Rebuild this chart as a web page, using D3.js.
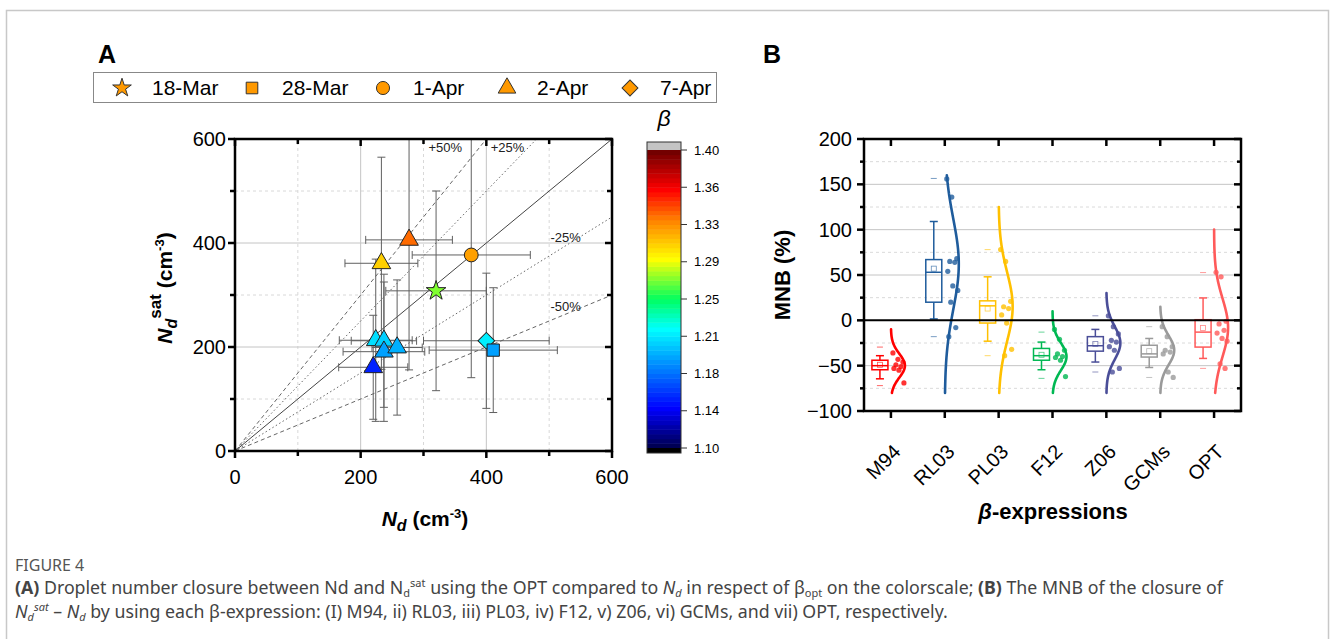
<!DOCTYPE html>
<html>
<head>
<meta charset="utf-8">
<script src="https://cdn.jsdelivr.net/npm/d3@7"></script>
<style>
  body { margin: 0; background: #fff; }
  svg { display: block; font-family: Arial, "Liberation Sans", sans-serif; }
</style>
</head>
<body>
<svg id="fig" width="1330" height="639"></svg>
<script>
// ---------- panel A data ----------
const dates = ["18-Mar", "28-Mar", "1-Apr", "2-Apr", "7-Apr"];
const ptDate = ["2-Apr", "2-Apr", "2-Apr", "2-Apr", "2-Apr", "2-Apr", "2-Apr", "7-Apr", "28-Mar", "1-Apr", "18-Mar"];
const ptNd   = [220, 224, 237, 237, 258, 233, 277, 400, 411, 376, 320];
const ptNsat = [161, 213, 212, 191, 199, 361, 406, 212, 194, 377, 308];
const ptNdErr   = [55, 58, 52, 65, 40, 58, 69, 100, 102, 94, 80];
const ptNsatErr = [100, 156, 128, 134, 130, 204, 250, 130, 120, 236, 192];
const ptBeta = [1.15, 1.21, 1.205, 1.19, 1.195, 1.305, 1.335, 1.215, 1.19, 1.32, 1.27];
const axisTicksA = [0, 200, 400, 600];
const betaTicks = [1.10, 1.14, 1.18, 1.21, 1.25, 1.29, 1.33, 1.36, 1.40];
const refLines = [
  { k: 1.5, label: "+50%" }, { k: 1.25, label: "+25%" }, { k: 1, label: "" },
  { k: 0.75, label: "-25%" }, { k: 0.5, label: "-50%" }
];

// ---------- panel B data ----------
const cats = ["M94", "RL03", "PL03", "F12", "Z06", "GCMs", "OPT"];
const m94Pts  = [-36, -43, -46, -49, -51, -53, -55, -69];
const rl03Pts = [156, 136, 68, 65, 64, 54, 38, 33, 20, -8, -18];
const pl03Pts = [78, 65, 21, 15, 13, 6, -3, -32, -39];
const f12Pts  = [-10, -21, -33, -37, -40, -41, -44, -62];
const z06Pts  = [5, -7, -15, -22, -24, -29, -33, -53, -57];
const gcmPts  = [-7, -18, -29, -33, -35, -37, -57, -63];
const optPts  = [53, 48, -1, -4, -11, -14, -20, -23, -48, -53];
const boxQ1   = [-54.5, 20, -3, -44, -34, -40.5, -29.5];
const boxMed  = [-50, 53, 16, -39, -28, -37, -13];
const boxQ3   = [-44, 67, 21.5, -31, -18, -27.5, 0.7];
const whiskLo = [-64.5, 1.5, -23, -54.5, -46, -52, -42];
const whiskHi = [-39, 109, 48, -24, -10, -20, 24.7];
const meanVal = [-49, 57, 13, -38, -26, -34, -8.5];
const extLo   = [-72, -18, -39, -64, -57, -63, -53];
const extHi   = [-29.5, 156.5, 78, -13, 5, -7, 52.7];
const curveMean = [-50, 62, 15, -40, -25, -33, -8];
const curveSd   = [13, 50, 38, 15, 18, 16, 32];
const curveLo   = [-80, -80, -80, -80, -80, -80, -80];
const curveHi   = [-10, 160, 125, 10, 30, 15, 100];
const mnbTicks = [-100, -50, 0, 50, 100, 150, 200];

const catPts = [m94Pts, rl03Pts, pl03Pts, f12Pts, z06Pts, gcmPts, optPts];
const catColor = ["#ff0000", "#1f5c9c", "#ffc000", "#00b853", "#4a4e98", "#9a9a9a", "#ff5a5a"];

const svg = d3.select("#fig");

// outer frame
svg.append("rect").attr("x", 6.5).attr("y", 10.5).attr("width", 1322).attr("height", 660)
  .attr("fill", "none").attr("stroke", "#c8c8c8").attr("stroke-width", 1.5);

// ===================== panel A =====================
const xA = d3.scaleLinear().domain([0, 600]).range([235, 612]);
const yA = d3.scaleLinear().domain([0, 600]).range([451, 139]);

const jet = d3.scaleLinear()
  .domain([1.10, 1.14, 1.18, 1.22, 1.25, 1.29, 1.33, 1.36, 1.40])
  .range(["#00004a", "#0000ff", "#0080ff", "#00ffff", "#00ff60", "#ffff00", "#ff8000", "#ff0000", "#6a0000"]);

svg.append("text").attr("x", 98).attr("y", 63).attr("font-size", 25).attr("font-weight", "bold").text("A");

// grid
const gA = svg.append("g");
[100, 300, 500].forEach(v => {
  gA.append("line").attr("x1", xA(v)).attr("x2", xA(v)).attr("y1", yA(0)).attr("y2", yA(600))
    .attr("stroke", "#d8d8d8").attr("stroke-dasharray", "3,3");
  gA.append("line").attr("y1", yA(v)).attr("y2", yA(v)).attr("x1", xA(0)).attr("x2", xA(600))
    .attr("stroke", "#d8d8d8").attr("stroke-dasharray", "3,3");
});
[200, 400].forEach(v => {
  gA.append("line").attr("x1", xA(v)).attr("x2", xA(v)).attr("y1", yA(0)).attr("y2", yA(600))
    .attr("stroke", "#c4c4c4");
  gA.append("line").attr("y1", yA(v)).attr("y2", yA(v)).attr("x1", xA(0)).attr("x2", xA(600))
    .attr("stroke", "#c4c4c4");
});

svg.append("clipPath").attr("id", "clipA").append("rect")
  .attr("x", xA(0)).attr("y", yA(600)).attr("width", xA(600) - xA(0)).attr("height", yA(0) - yA(600));

// reference lines
const refG = svg.append("g").attr("clip-path", "url(#clipA)");
refLines.forEach(r => {
  const xEnd = Math.min(600, 600 / r.k);
  refG.append("line")
    .attr("x1", xA(0)).attr("y1", yA(0)).attr("x2", xA(xEnd)).attr("y2", yA(xEnd * r.k))
    .attr("stroke", r.k === 1 ? "#444" : "#555").attr("stroke-width", r.k === 1 ? 1 : 0.9)
    .attr("stroke-dasharray", r.k === 1 ? null : (Math.abs(r.k - 1) === 0.5 ? "4,3" : "1.5,2.5"));
});
const refLab = [
  { t: "+50%", x: xA(308), y: yA(575) }, { t: "+25%", x: xA(407), y: yA(575) },
  { t: "-25%", x: xA(502), y: yA(402) }, { t: "-50%", x: xA(502), y: yA(270) }
];
refLab.forEach(l => {
  svg.append("text").attr("x", l.x).attr("y", l.y).attr("font-size", 13).attr("fill", "#222").text(l.t);
});

// error bars
const errG = svg.append("g").attr("clip-path", "url(#clipA)")
  .attr("stroke", "#606060").attr("stroke-width", 1).attr("fill", "none");
ptNd.forEach((nd, i) => {
  const cx = xA(nd), cy = yA(ptNsat[i]);
  const x0 = xA(nd - ptNdErr[i]), x1 = xA(nd + ptNdErr[i]);
  const y0 = yA(ptNsat[i] - ptNsatErr[i]), y1 = yA(ptNsat[i] + ptNsatErr[i]);
  errG.append("line").attr("x1", x0).attr("x2", x1).attr("y1", cy).attr("y2", cy);
  errG.append("line").attr("x1", x0).attr("x2", x0).attr("y1", cy - 4).attr("y2", cy + 4);
  errG.append("line").attr("x1", x1).attr("x2", x1).attr("y1", cy - 4).attr("y2", cy + 4);
  errG.append("line").attr("x1", cx).attr("x2", cx).attr("y1", y0).attr("y2", y1);
  errG.append("line").attr("x1", cx - 4).attr("x2", cx + 4).attr("y1", y0).attr("y2", y0);
  errG.append("line").attr("x1", cx - 4).attr("x2", cx + 4).attr("y1", y1).attr("y2", y1);
});

const symFor = {
  "18-Mar": { t: d3.symbolStar, s: 120, r: 0 },
  "28-Mar": { t: d3.symbolSquare, s: 150, r: 0 },
  "1-Apr": { t: d3.symbolCircle, s: 150, r: 0 },
  "2-Apr": { t: d3.symbolTriangle, s: 150, r: 0 },
  "7-Apr": { t: d3.symbolSquare, s: 140, r: 45 }
};
const markG = svg.append("g");
ptNd.forEach((nd, i) => {
  const sy = symFor[ptDate[i]];
  markG.append("path")
    .attr("d", d3.symbol().type(sy.t).size(sy.s)())
    .attr("transform", `translate(${xA(nd)},${yA(ptNsat[i])}) rotate(${sy.r})`)
    .attr("fill", jet(ptBeta[i])).attr("stroke", "#222").attr("stroke-width", 1);
});

// frame + ticks
const frameA = svg.append("g");
frameA.append("rect").attr("x", xA(0)).attr("y", yA(600)).attr("width", xA(600) - xA(0)).attr("height", yA(0) - yA(600))
  .attr("fill", "none").attr("stroke", "#000").attr("stroke-width", 2.5);
d3.range(0, 601, 100).forEach(v => {
  const major = v % 200 === 0;
  const L = major ? 7 : 5;
  frameA.append("line").attr("x1", xA(v)).attr("x2", xA(v)).attr("y1", yA(0)).attr("y2", yA(0) + L).attr("stroke", "#000").attr("stroke-width", 2.5);
  frameA.append("line").attr("x1", xA(v)).attr("x2", xA(v)).attr("y1", yA(600)).attr("y2", yA(600) + L).attr("stroke", "#000").attr("stroke-width", 2.5);
  frameA.append("line").attr("y1", yA(v)).attr("y2", yA(v)).attr("x1", xA(0)).attr("x2", xA(0) - L).attr("stroke", "#000").attr("stroke-width", 2.5);
  frameA.append("line").attr("y1", yA(v)).attr("y2", yA(v)).attr("x1", xA(600)).attr("x2", xA(600) - L).attr("stroke", "#000").attr("stroke-width", 2.5);
});
axisTicksA.forEach(v => {
  svg.append("text").attr("x", xA(v)).attr("y", 484).attr("text-anchor", "middle").attr("font-size", 20).text(v);
  svg.append("text").attr("x", 226).attr("y", yA(v) + 7).attr("text-anchor", "end").attr("font-size", 20).text(v);
});

// axis titles
const xt = svg.append("text").attr("x", 425).attr("y", 526).attr("text-anchor", "middle")
  .attr("font-size", 21).attr("font-weight", "bold");
xt.append("tspan").attr("font-style", "italic").text("N");
xt.append("tspan").attr("font-style", "italic").attr("font-size", 16).attr("dy", 5).text("d");
xt.append("tspan").attr("dy", -5).text(" (cm");
xt.append("tspan").attr("font-size", 13).attr("dy", -8).text("-3");
xt.append("tspan").attr("dy", 8).text(")");

const yt = svg.append("text").attr("transform", "translate(172,288) rotate(-90)").attr("text-anchor", "middle")
  .attr("font-size", 21).attr("font-weight", "bold");
yt.append("tspan").attr("font-style", "italic").text("N");
yt.append("tspan").attr("font-style", "italic").attr("font-size", 16).attr("dy", 5).text("d");
yt.append("tspan").attr("font-size", 17).attr("dy", -16).text("sat");
yt.append("tspan").attr("dy", 11).text(" (cm");
yt.append("tspan").attr("font-size", 13).attr("dy", -8).text("-3");
yt.append("tspan").attr("dy", 8).text(")");

// legend
const leg = svg.append("g");
leg.append("rect").attr("x", 93.5).attr("y", 72.5).attr("width", 623).attr("height", 30)
  .attr("fill", "#fff").attr("stroke", "#888").attr("stroke-width", 1);
const legX = [122, 252, 383, 507, 630];
dates.forEach((d, i) => {
  const sy = symFor[d];
  leg.append("path").attr("d", d3.symbol().type(sy.t).size(sy.s * 0.9)())
    .attr("transform", `translate(${legX[i]},88) rotate(${sy.r})`)
    .attr("fill", "#ff9900").attr("stroke", "#333").attr("stroke-width", 1);
  leg.append("text").attr("x", legX[i] + 30).attr("y", 95).attr("font-size", 21).text(d);
});

// colorbar
const cb = d3.scaleLinear().domain([1.10, 1.40]).range([448, 150]);
const nLev = 64;
const step = 0.30 / nLev;
d3.range(nLev).forEach(k => {
  const b0 = 1.10 + k * step, b1 = b0 + step;
  svg.append("rect").attr("x", 647).attr("y", cb(b1)).attr("width", 34).attr("height", cb(b0) - cb(b1) + 0.5)
    .attr("fill", jet(b0 + step / 2));
});
svg.append("rect").attr("x", 647).attr("y", 142).attr("width", 34).attr("height", 8).attr("fill", "#c4c4c4");
svg.append("rect").attr("x", 647).attr("y", 448).attr("width", 34).attr("height", 5).attr("fill", "#000");
svg.append("rect").attr("x", 647).attr("y", 142).attr("width", 34).attr("height", 311)
  .attr("fill", "none").attr("stroke", "#333").attr("stroke-width", 1);
betaTicks.forEach((b, i) => {
  const y = d3.scaleLinear().domain([0, betaTicks.length - 1]).range([448, 150])(i);
  svg.append("line").attr("x1", 681).attr("x2", 687).attr("y1", y).attr("y2", y).attr("stroke", "#333");
  svg.append("text").attr("x", 694).attr("y", y + 4.5).attr("font-size", 13).text(b.toFixed(2));
});
svg.append("text").attr("x", 664).attr("y", 126).attr("text-anchor", "middle").attr("font-size", 23)
  .attr("font-style", "italic").text("β");

// ===================== panel B =====================
const xB = d3.scalePoint().domain(cats).range([864, 1241]).padding(0.5);
const yB = d3.scaleLinear().domain([-100, 200]).range([411, 139]);

svg.append("text").attr("x", 763).attr("y", 63).attr("font-size", 25).attr("font-weight", "bold").text("B");

const gB = svg.append("g");
d3.range(-75, 200, 25).forEach(v => {
  if (v === 0) return;
  const major = v % 50 === 0;
  gB.append("line").attr("x1", 864).attr("x2", 1241).attr("y1", yB(v)).attr("y2", yB(v))
    .attr("stroke", major ? "#c4c4c4" : "#dadada").attr("stroke-dasharray", major ? null : "3,3");
});

cats.forEach((c, i) => {
  const col = catColor[i];
  const xc = xB(c), bx = xc - 11, bw = 16;
  const g = gB.append("g").attr("stroke", col).attr("fill", "none");
  // whiskers
  g.append("line").attr("x1", bx).attr("x2", bx).attr("y1", yB(whiskHi[i])).attr("y2", yB(boxQ3[i])).attr("stroke-width", 1.5);
  g.append("line").attr("x1", bx).attr("x2", bx).attr("y1", yB(boxQ1[i])).attr("y2", yB(whiskLo[i])).attr("stroke-width", 1.5);
  [whiskHi[i], whiskLo[i]].forEach(v =>
    g.append("line").attr("x1", bx - 4).attr("x2", bx + 4).attr("y1", yB(v)).attr("y2", yB(v)).attr("stroke-width", 1.5));
  g.append("rect").attr("x", bx - bw / 2).attr("y", yB(boxQ3[i])).attr("width", bw).attr("height", yB(boxQ1[i]) - yB(boxQ3[i]))
    .attr("stroke-width", 1.5);
  g.append("line").attr("x1", bx - bw / 2).attr("x2", bx + bw / 2).attr("y1", yB(boxMed[i])).attr("y2", yB(boxMed[i])).attr("stroke-width", 1.5);
  g.append("rect").attr("x", bx - 2.5).attr("y", yB(meanVal[i]) - 2.5).attr("width", 5).attr("height", 5)
    .attr("stroke-width", 0.8).attr("opacity", 0.7);
  [extHi[i], extLo[i]].forEach(v =>
    g.append("line").attr("x1", bx - 3).attr("x2", bx + 3).attr("y1", yB(v)).attr("y2", yB(v)).attr("stroke-width", 1).attr("opacity", 0.6));

  // distribution curve
  const peak = 14;
  const ys = d3.range(curveLo[i], curveHi[i] + 0.1, 1);
  const line = d3.line().x(v => xc + peak * Math.exp(-0.5 * ((v - curveMean[i]) / curveSd[i]) ** 2)).y(v => yB(v)).curve(d3.curveBasis);
  g.append("path").attr("d", line(ys)).attr("stroke-width", 2.6).attr("stroke-linecap", "round");

  // data points
  catPts[i].forEach((v, k) => {
    gB.append("circle").attr("cx", xc + 2 + ((k * 5) % 12)).attr("cy", yB(v)).attr("r", 2.6)
      .attr("fill", col).attr("opacity", 0.8);
  });
});

// zero line
gB.append("line").attr("x1", 864).attr("x2", 1241).attr("y1", yB(0)).attr("y2", yB(0)).attr("stroke", "#000").attr("stroke-width", 2);

const frameB = svg.append("g");
frameB.append("rect").attr("x", 864).attr("y", yB(200)).attr("width", 1241 - 864).attr("height", yB(-100) - yB(200))
  .attr("fill", "none").attr("stroke", "#000").attr("stroke-width", 2.5);
d3.range(-100, 201, 25).forEach(v => {
  const L = v % 50 === 0 ? 7 : 4;
  frameB.append("line").attr("x1", 864).attr("x2", 864 - L).attr("y1", yB(v)).attr("y2", yB(v)).attr("stroke", "#000").attr("stroke-width", 2.5);
  frameB.append("line").attr("x1", 1241).attr("x2", 1241 - L).attr("y1", yB(v)).attr("y2", yB(v)).attr("stroke", "#000").attr("stroke-width", 2.5);
});
cats.forEach(c => {
  frameB.append("line").attr("x1", xB(c)).attr("x2", xB(c)).attr("y1", yB(-100)).attr("y2", yB(-100) + 7).attr("stroke", "#000").attr("stroke-width", 2.5);
  frameB.append("line").attr("x1", xB(c)).attr("x2", xB(c)).attr("y1", yB(200)).attr("y2", yB(200) + 7).attr("stroke", "#000").attr("stroke-width", 2.5);
  svg.append("text").attr("transform", `translate(${xB(c) + 11},${453}) rotate(-45)`).attr("text-anchor", "end")
    .attr("font-size", 20).text(c);
});
mnbTicks.forEach(v => {
  svg.append("text").attr("x", 852).attr("y", yB(v) + 7).attr("text-anchor", "end").attr("font-size", 20)
    .text(v < 0 ? "\u2212" + Math.abs(v) : v);
});
svg.append("text").attr("transform", "translate(790,275) rotate(-90)").attr("text-anchor", "middle")
  .attr("font-size", 22).attr("font-weight", "bold").text("MNB (%)");
const bt = svg.append("text").attr("x", 1053).attr("y", 519).attr("text-anchor", "middle").attr("font-size", 22).attr("font-weight", "bold");
bt.append("tspan").attr("font-style", "italic").text("β");
bt.append("tspan").text("-expressions");

// ===================== caption =====================
const capFont = "'Noto Sans', 'Open Sans', sans-serif";
svg.append("text").attr("x", 15).attr("y", 571).attr("font-family", capFont).attr("font-size", 16)
  .attr("fill", "#555").text("FIGURE 4");
const c1 = svg.append("text").attr("x", 15).attr("y", 594).attr("font-family", capFont).attr("font-size", 17.75).attr("fill", "#444");
c1.append("tspan").attr("font-weight", "bold").text("(A)");
c1.append("tspan").text(" Droplet number closure between Nd and N");
c1.append("tspan").attr("font-size", 11).attr("dy", 3).text("d");
c1.append("tspan").attr("font-size", 11).attr("dy", -10).text("sat");
c1.append("tspan").attr("dy", 7).text(" using the OPT compared to ");
c1.append("tspan").attr("font-style", "italic").text("N");
c1.append("tspan").attr("font-style", "italic").attr("font-size", 11).attr("dy", 3).text("d");
c1.append("tspan").attr("dy", -3).text(" in respect of β");
c1.append("tspan").attr("font-size", 11).attr("dy", 3).text("opt");
c1.append("tspan").attr("dy", -3).text(" on the colorscale; ");
c1.append("tspan").attr("font-weight", "bold").text("(B)");
c1.append("tspan").text(" The MNB of the closure of");

const c2 = svg.append("text").attr("x", 15).attr("y", 618).attr("font-family", capFont).attr("font-size", 17.75).attr("fill", "#444");
c2.append("tspan").attr("font-style", "italic").text("N");
c2.append("tspan").attr("font-style", "italic").attr("font-size", 11).attr("dy", 3).text("d");
c2.append("tspan").attr("font-style", "italic").attr("font-size", 11).attr("dy", -10).text("sat");
c2.append("tspan").attr("dy", 7).text(" \u2013 ");
c2.append("tspan").attr("font-style", "italic").text("N");
c2.append("tspan").attr("font-style", "italic").attr("font-size", 11).attr("dy", 3).text("d");
c2.append("tspan").attr("dy", -3).text(" by using each β-expression: (I) M94, ii) RL03, iii) PL03, iv) F12, v) Z06, vi) GCMs, and vii) OPT, respectively.");
</script>
</body>
</html>
